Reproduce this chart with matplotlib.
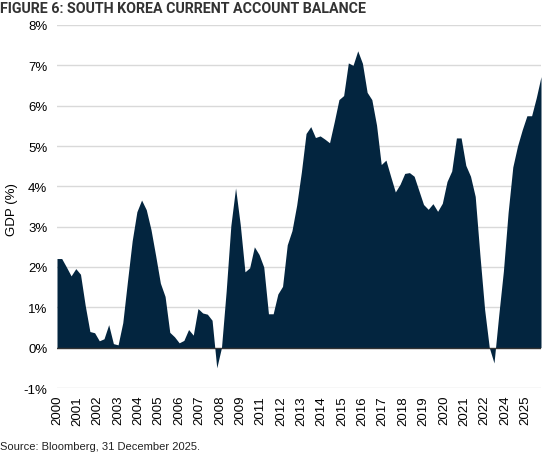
import numpy as np
import matplotlib.pyplot as plt

# current account balance, % of GDP, quarterly 2000Q1 .. 2025Q4
balance = [
    2.21, 2.21, 2.00, 1.78, 1.96, 1.82, 1.05, 0.40, 0.37, 0.17,
    0.22, 0.57, 0.10, 0.07, 0.62, 1.65, 2.65, 3.37, 3.66, 3.42,
    2.93, 2.28, 1.60, 1.27, 0.38, 0.27, 0.12, 0.18, 0.45, 0.31,
    0.97, 0.86, 0.83, 0.68, -0.50, 0.00, 1.40, 3.03, 3.96, 3.05,
    1.88, 1.98, 2.50, 2.31, 2.00, 0.84, 0.84, 1.33, 1.52, 2.55,
    2.90, 3.53, 4.35, 5.31, 5.48, 5.21, 5.25, 5.17, 5.08, 5.60,
    6.15, 6.25, 7.06, 7.00, 7.36, 7.05, 6.33, 6.15, 5.52, 4.54,
    4.65, 4.25, 3.86, 4.05, 4.32, 4.34, 4.25, 3.90, 3.55, 3.43,
    3.57, 3.38, 3.58, 4.12, 4.38, 5.20, 5.20, 4.52, 4.25, 3.75,
    2.30, 0.95, 0.00, -0.38, 0.80, 1.90, 3.35, 4.48, 5.00, 5.40,
    5.75, 5.75, 6.20, 6.72,
]
# category axis is monthly, a label every 13 months starting March 2000
tick_labels = ["2000", "2001", "2002", "2003", "2004", "2005", "2006", "2007",
               "2008", "2009", "2011", "2012", "2013", "2014", "2015", "2016",
               "2017", "2018", "2019", "2020", "2021", "2022", "2024", "2025"]
y_ticks = [-1, 0, 1, 2, 3, 4, 5, 6, 7, 8]

navy = "#03253f"
grid_col = "#d9d9d9"
text_col = "#222222"

x = 2 + 3 * np.arange(len(balance))          # month index of each quarter end
tick_pos = 2 + 13 * np.arange(len(tick_labels))

plt.rcParams["font.family"] = ["Liberation Sans", "DejaVu Sans"]

fig = plt.figure(figsize=(5.47, 4.56), dpi=100)
ax = fig.add_axes([57 / 547, 1 - 389 / 456, (541 - 57) / 547, (389 - 26) / 456])

ax.fill_between(x, balance, 0, color=navy, linewidth=0, zorder=2)

for v in y_ticks:
    if v == 0:
        ax.axhline(v, color="#333333", linewidth=1.0, zorder=3)
    else:
        ax.axhline(v, color=grid_col, linewidth=1.0, zorder=1)

ax.set_xlim(x[0], x[-1])
ax.set_ylim(-1, 8)
ax.set_yticks(y_ticks)
ax.set_yticklabels([f"{v}%" for v in y_ticks])
ax.set_xticks(tick_pos)
ax.set_xticklabels(tick_labels, rotation=90)
ax.tick_params(axis="both", length=0, labelsize=9.5, labelcolor="black")
ax.tick_params(axis="y", pad=7)
ax.tick_params(axis="x", pad=5)
for s in ax.spines.values():
    s.set_visible(False)

fig.text(12 / 547, 1 - 210 / 456, "GDP (%)", rotation=90, fontsize=9.5,
         color="black", va="center", ha="center")

fig.text(0.0, 1 - 9 / 456, "FIGURE 6: SOUTH KOREA CURRENT ACCOUNT BALANCE",
         fontsize=10.3, fontweight="bold", color="#333333", va="center", ha="left",
         family=["Roboto", "Liberation Sans", "DejaVu Sans"])
fig.text(0.0, 1 - 447 / 456, "Source: Bloomberg, 31 December 2025.",
         fontsize=8, color=text_col, va="center", ha="left")

fig.savefig("out.png", dpi=100)
